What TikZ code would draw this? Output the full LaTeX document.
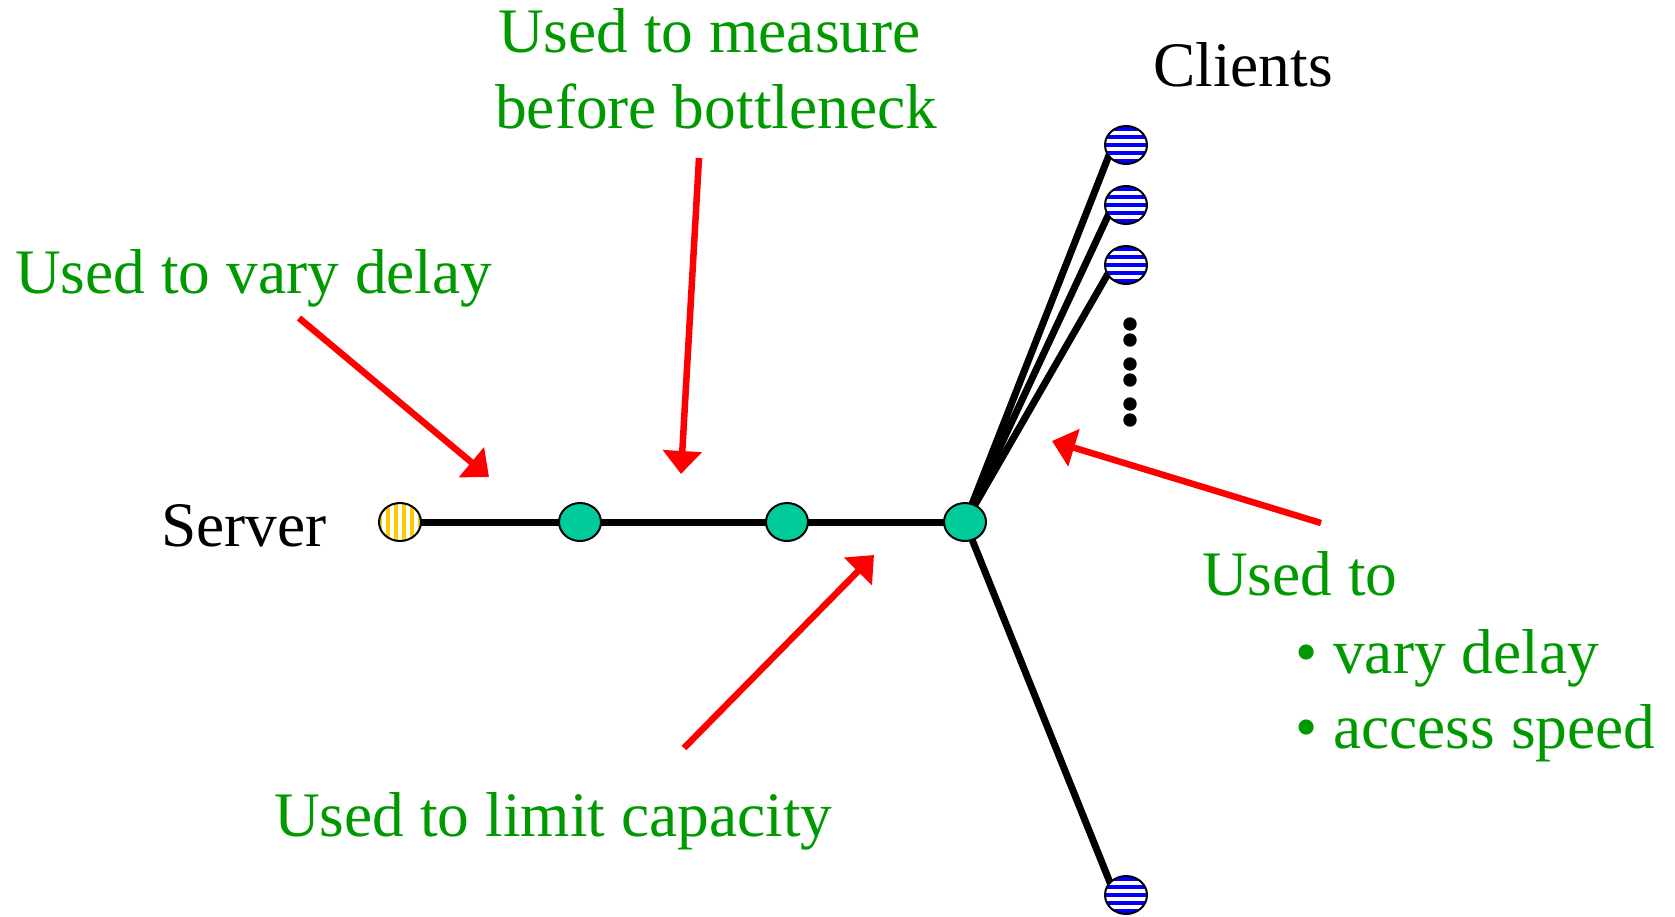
\documentclass[tikz,border=0pt]{standalone}
\usepackage{fontspec}
\setmainfont{Liberation Serif}
\usetikzlibrary{shapes.geometric,arrows.meta,backgrounds}
\definecolor{lblgreen}{HTML}{009900}
\definecolor{routerfill}{HTML}{00CC99}
\definecolor{stripeblue}{HTML}{0000FF}
\definecolor{stripeyellow}{HTML}{FFCC00}
\definecolor{arrowred}{HTML}{FF0000}
\tikzset{
  hostnode/.style={ellipse, draw=black, line width=2pt, inner sep=0pt,
    minimum width=42pt, minimum height=38pt},
  router/.style={hostnode, fill=routerfill},
  client/.style={hostnode, fill=white,
    path picture={\foreach \k in {-4,...,4}{
      \fill[stripeblue] ([shift={(-30pt,\k*8pt-2pt)}]path picture bounding box.center)
        rectangle +(60pt,4pt);}}},
  server/.style={hostnode, fill=white,
    path picture={\foreach \k in {-4,...,4}{
      \fill[stripeyellow] ([shift={(\k*8pt+1.75pt,-30pt)}]path picture bounding box.center)
        rectangle +(4.5pt,60pt);}}},
  link/.style={line width=7pt, black},
  callout/.style={line width=6.5pt, arrowred, -{Triangle[length=23pt,width=38pt]}},
  txt/.style={anchor=base west, inner sep=0pt, font=\fontsize{63.4pt}{76pt}\selectfont},
  lbl/.style={txt, text=lblgreen},
}
\begin{document}
\begin{tikzpicture}[x=1pt,y=-1pt]
\useasboundingbox (0,0) rectangle (1675,916);

% hosts and routers
\node[server] (srv) at (400,522) {};
\node[router] (r1) at (580,522) {};
\node[router] (r2) at (787,522) {};
\node[router] (r3) at (965,522) {};
\node[client] (c1) at (1126,145) {};
\node[client] (c2) at (1126,205) {};
\node[client] (c3) at (1126,265) {};
\node[client] (c4) at (1126,895) {};

% links, kept behind the nodes
\begin{pgfonlayer}{background}
  \draw[link] (srv.center) -- (r1.center) -- (r2.center) -- (r3.center);
  \draw[link] (r3.center) -- ([xshift=-13pt]c1.center);
  \draw[link] (r3.center) -- ([xshift=-13pt]c2.center);
  \draw[link] (r3.center) -- ([xshift=-13pt]c3.center);
  \draw[link] (r3.center) -- ([xshift=-11pt]c4.center);
\end{pgfonlayer}

% vertical ellipsis below the clients
\foreach \y in {324,340,364,380,404,420}
  \fill[black] (1130,\y) circle (6.7pt);

% labels
\node[txt] (tsrv) at (161,546) {Server};
\node[txt] (tcli) at (1153,86) {Clients};
\node[lbl] (tdelay) at (15,293) {Used to vary delay};
\node[lbl] (tmeas1) at (498,52) {Used to measure};
\node[lbl] (tmeas2) at (495,128) {before bottleneck};
\node[lbl] (tcap) at (274,836) {Used to limit capacity};
\node[lbl] (tacc) at (1202,595) {Used to};
\node[lbl] (tacc1) at (1295,673) {• vary delay};
\node[lbl] (tacc2) at (1295,748) {• access speed};

% callout arrows
\coordinate (a1s) at (299,318);  \coordinate (a1e) at (489,477);
\coordinate (a2s) at (699,158);  \coordinate (a2e) at (681,474);
\coordinate (a3s) at (1321,523); \coordinate (a3e) at (1052,441);
\coordinate (a4s) at (684,748);  \coordinate (a4e) at (874,555);
\draw[callout] (a1s) -- (a1e);
\draw[callout] (a2s) -- (a2e);
\draw[callout] (a3s) -- (a3e);
\draw[callout] (a4s) -- (a4e);
\end{tikzpicture}
\end{document}
